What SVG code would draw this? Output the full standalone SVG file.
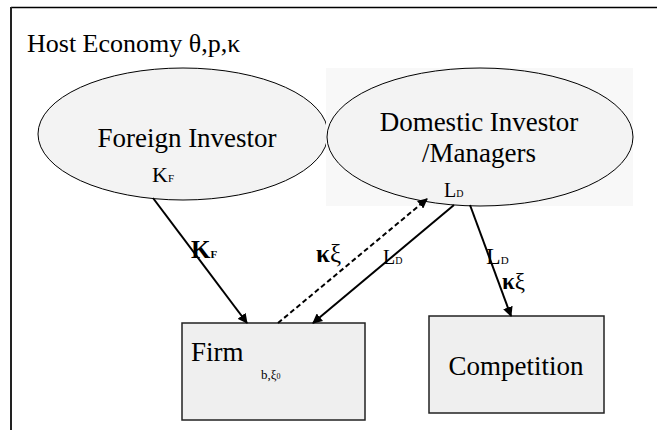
<svg xmlns="http://www.w3.org/2000/svg" width="657" height="430" viewBox="0 0 657 430" font-family="'Liberation Serif','Times New Roman','DejaVu Serif',serif">
<style>
text{font-family:"Liberation Serif","Times New Roman","DejaVu Serif",serif;fill:#000}
.ell{fill:#f3f3f3;stroke:#000;stroke-width:1}
.box{fill:#efefef;stroke:#222;stroke-width:1.5}
.c{stroke:#000;stroke-width:2;fill:none;marker-end:url(#ah)}
</style>
<defs>
<marker id="ah" viewBox="0 0 10 10" refX="9" refY="5" markerWidth="5" markerHeight="5" orient="auto" markerUnits="strokeWidth">
<path d="M0,0 L10,5 L0,10 z" fill="#000"/>
</marker>
</defs>
<rect width="657" height="430" fill="#fff"/>
<g id="frame">
<line x1="11" y1="7.5" x2="657" y2="7.5" stroke="#000" stroke-width="1.5"/>
<line x1="11" y1="7" x2="11" y2="430" stroke="#222" stroke-width="2"/>
<text x="27" y="52" font-size="26">Host Economy θ,p,κ</text>
</g>
<g id="foreign">
<ellipse class="ell" cx="183" cy="134" rx="145" ry="66"/>
<text x="187" y="147" font-size="27" text-anchor="middle">Foreign Investor</text>
<text x="152" y="182" font-size="22">K<tspan font-size="11">F</tspan></text>
</g>
<g id="domestic">
<rect x="326" y="68" width="307" height="138" fill="#f8f8f8"/>
<ellipse class="ell" cx="480" cy="137" rx="153" ry="69"/>
<text x="479" y="131" font-size="27" text-anchor="middle">Domestic Investor</text>
<text x="479" y="162" font-size="27" text-anchor="middle">/Managers</text>
<text x="444" y="197" font-size="20">L<tspan font-size="10">D</tspan></text>
</g>
<g id="firm">
<rect class="box" x="182" y="323" width="183" height="97"/>
<text x="191" y="361" font-size="27">Firm</text>
<text x="261" y="379" font-size="13">b,ξ<tspan font-size="8">0</tspan></text>
</g>
<g id="competition">
<rect class="box" x="429" y="316" width="175" height="97"/>
<text x="516" y="375" font-size="27" text-anchor="middle">Competition</text>
</g>
<g id="connectors">
<line class="c" x1="153" y1="198" x2="247" y2="323"/>
<line class="c" x1="278" y1="323" x2="427" y2="199" stroke-dasharray="5,3"/>
<line class="c" x1="454" y1="205" x2="313" y2="323"/>
<line class="c" x1="470" y1="205" x2="511" y2="316"/>
<text x="191" y="258" font-size="25" font-weight="bold">K<tspan font-size="11">F</tspan></text>
<text x="316" y="262" font-size="25"><tspan font-weight="bold">κ</tspan>ξ</text>
<text x="383" y="264" font-size="20">L<tspan font-size="10">D</tspan></text>
<text x="486" y="264" font-size="24">L<tspan font-size="11">D</tspan></text>
<text x="502" y="289" font-size="23"><tspan font-weight="bold">κ</tspan>ξ</text>
</g>
</svg>
